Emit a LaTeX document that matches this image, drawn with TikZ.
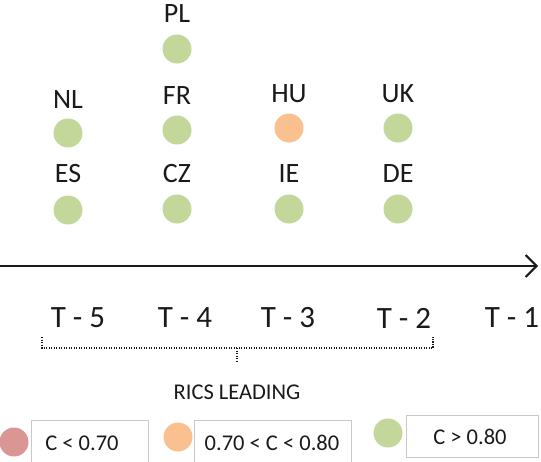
\documentclass[tikz,border=0pt]{standalone}
\usepackage{fontspec}
\setmainfont{Carlito}
\usetikzlibrary{arrows.meta}
\definecolor{dotgreen}{HTML}{C4D79B}
\definecolor{dotorange}{HTML}{FAC090}
\definecolor{dotred}{HTML}{D99694}
\definecolor{boxgray}{HTML}{C8C8C8}
\definecolor{txt}{HTML}{1A1A1A}
\tikzset{
  dot/.style={circle, minimum size=29pt, inner sep=0pt},
  country/.style={font=\fontsize{28}{28}\selectfont, text=txt, inner sep=0pt},
  tlabel/.style={font=\fontsize{31}{31}\selectfont, text=txt, inner sep=0pt},
  legtext/.style={font=\fontsize{22.5}{22.5}\selectfont, text=txt, inner sep=0pt},
  legbox/.style={draw=boxgray, line width=1pt},
  bracedots/.style={txt, line width=1.6pt, dash pattern=on 1.2pt off 1.3pt}
}
\begin{document}
\begin{tikzpicture}[x=1pt,y=-1pt]
\useasboundingbox (0,0) rectangle (541,461);
% countries
\node[country] (lPL) at (177,14) {PL};
\node[dot, fill=dotgreen] (dPL) at (177,49) {};
\node[country] (lNL) at (68,100) {NL};
\node[dot, fill=dotgreen] (dNL) at (68,133) {};
\node[country] (lFR) at (177,96) {FR};
\node[dot, fill=dotgreen] (dFR) at (177,130) {};
\node[country] (lHU) at (289,94) {HU};
\node[dot, fill=dotorange] (dHU) at (289,128) {};
\node[country] (lUK) at (398,94) {UK};
\node[dot, fill=dotgreen] (dUK) at (398,128) {};
\node[country] (lES) at (68,174) {ES};
\node[dot, fill=dotgreen] (dES) at (68,210) {};
\node[country] (lCZ) at (177,174) {CZ};
\node[dot, fill=dotgreen] (dCZ) at (177,209) {};
\node[country] (lIE) at (289,174) {IE};
\node[dot, fill=dotgreen] (dIE) at (289,209) {};
\node[country] (lDE) at (398,174) {DE};
\node[dot, fill=dotgreen] (dDE) at (398,209) {};
% time axis
\coordinate (ax0) at (0,266);
\coordinate (ax1) at (538,266);
\draw[line width=2pt, txt, -{Straight Barb[length=11pt,width=22pt,line width=2pt]}] (ax0) -- (ax1);
\node[tlabel] (t5) at (78,318) {T - 5};
\node[tlabel] (t4) at (185,318) {T - 4};
\node[tlabel] (t3) at (288,318) {T - 3};
\node[tlabel] (t2) at (404,318) {T - 2};
\node[tlabel] (t1) at (512,318) {T - 1};
% dotted brace
\coordinate (b0) at (42,337);
\coordinate (b1) at (42,348);
\coordinate (bm) at (237,348);
\coordinate (bt) at (237,361);
\coordinate (b2) at (433,348);
\coordinate (b3) at (433,337);
\draw[bracedots] (b0) -- (b1) -- (b2) -- (b3);
\draw[bracedots] (bm) -- (bt);
\node[legtext] (rics) at (237,392) {RICS LEADING};
% legend
\node[dot, fill=dotred] (lgR) at (14,442) {};
\draw[legbox] (31,462) -- (31,420) -- (148,420) -- (148,462);
\node[legtext] (tR) at (82,443) {C < 0.70};
\node[dot, fill=dotorange] (lgO) at (178,437) {};
\draw[legbox] (194,462) -- (194,420) -- (351,420) -- (351,462);
\node[legtext] (tO) at (272,443) {0.70 < C < 0.80};
\node[dot, fill=dotgreen] (lgG) at (388,433) {};
\draw[legbox] (406,415) rectangle (538,457);
\node[legtext] (tG) at (470,437) {C > 0.80};
\end{tikzpicture}
\end{document}
